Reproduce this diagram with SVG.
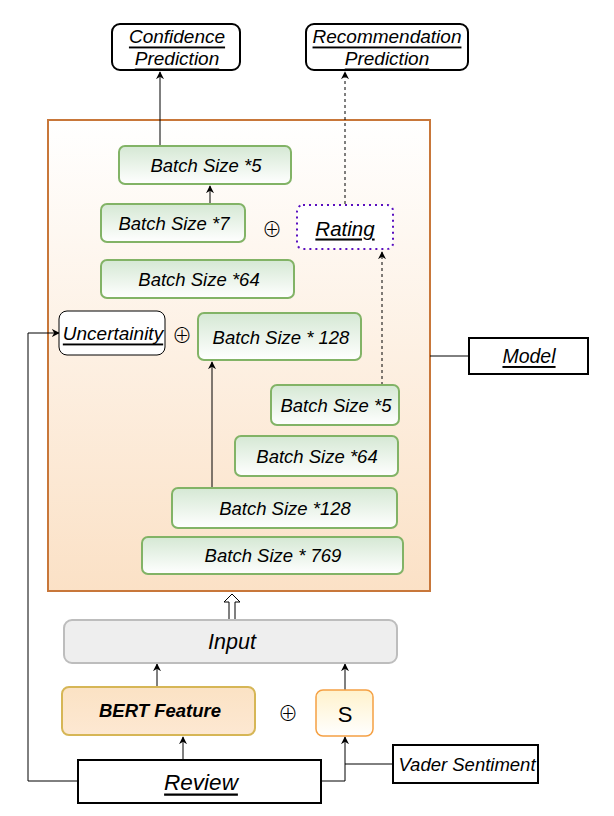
<svg xmlns="http://www.w3.org/2000/svg" width="614" height="816" viewBox="0 0 614 816">
<defs>
<linearGradient id="gModel" x1="0" y1="0" x2="0" y2="1"><stop offset="0" stop-color="#ffffff"/><stop offset="1" stop-color="#fbe1c6"/></linearGradient>
<linearGradient id="gGreen" x1="0" y1="0" x2="0" y2="1"><stop offset="0" stop-color="#d5e8d4"/><stop offset="1" stop-color="#ffffff"/></linearGradient>
<linearGradient id="gBert" x1="0" y1="0" x2="0" y2="1"><stop offset="0" stop-color="#fbe2c4"/><stop offset="1" stop-color="#fde8d2"/></linearGradient>
<linearGradient id="gS" x1="0" y1="0" x2="0" y2="1"><stop offset="0" stop-color="#fff2cc"/><stop offset="1" stop-color="#ffffff"/></linearGradient>
<marker id="arr" viewBox="0 0 10 10" refX="9" refY="5" markerWidth="8" markerHeight="8" orient="auto-start-reverse" markerUnits="userSpaceOnUse"><path d="M0,0 L10,5 L0,10 L3,5 Z" fill="#000"/></marker>
</defs>
<style>
text{font-family:"Liberation Sans",Arial,sans-serif;font-style:italic;fill:#000;text-anchor:middle;dominant-baseline:central}
.u{text-decoration:underline}
.bs{font-size:18.5px}
.pl{font-family:"Noto Sans CJK JP","DejaVu Sans",sans-serif;font-style:normal;font-weight:300;font-size:20px}
.green{fill:url(#gGreen);stroke:#82b366;stroke-width:2}
.blk{fill:#fff;stroke:#000;stroke-width:2}
.ln{fill:none;stroke:#000;stroke-width:1}
.dash{fill:none;stroke:#000;stroke-width:1;stroke-dasharray:3,3}
</style>
<rect width="614" height="816" fill="#fff"/>
<g id="model-container"><rect x="48" y="120" width="382" height="471" fill="url(#gModel)" stroke="#c8773a" stroke-width="2"/></g>
<g id="connectors">
<path class="ln" d="M160,146 V72" marker-end="url(#arr)"/>
<path class="dash" d="M345,204 V72" marker-end="url(#arr)"/>
<path class="ln" d="M210,204 V186" marker-end="url(#arr)"/>
<path class="ln" d="M212,488 V362" marker-end="url(#arr)"/>
<path class="dash" d="M382,385 V252" marker-end="url(#arr)"/>
<path class="ln" d="M430,356 H469"/>
<path class="ln" d="M157,687 V664" marker-end="url(#arr)"/>
<path class="ln" d="M345,690 V664" marker-end="url(#arr)"/>
<path class="ln" d="M183,760 V737" marker-end="url(#arr)"/>
<path class="ln" d="M321,781 H345 V737" marker-end="url(#arr)"/>
<path class="ln" d="M393,764 H345"/>
<path class="ln" d="M78,781 H28 V333 H59" marker-end="url(#arr)"/>
<path d="M229,620 V602 H224 L232,594 L240,602 H235 V620 Z" fill="#fff" stroke="#000" stroke-width="1"/>
</g>
<g id="confidence"><rect x="112" y="24" width="128" height="46" rx="8" class="blk"/><text x="177" y="36" class="u" style="font-size:19px">Confidence</text><text x="177" y="58" class="u" style="font-size:19px">Prediction</text></g>
<g id="recommendation"><rect x="306" y="24" width="162" height="46" rx="8" class="blk"/><text x="387" y="36" class="u" style="font-size:19px">Recommendation</text><text x="387" y="58" class="u" style="font-size:19px">Prediction</text></g>
<g id="bs5top"><rect x="119" y="146" width="172" height="38" rx="6" class="green"/><text x="206" y="165" class="bs">Batch Size *5</text></g>
<g id="bs7"><rect x="101" y="204" width="144" height="38" rx="6" class="green"/><text x="174" y="223" class="bs">Batch Size *7</text></g>
<g id="plus1"><text x="272" y="228" class="pl">⊕</text></g>
<g id="rating"><rect x="297" y="205" width="96" height="44" rx="6" fill="#fff" stroke="#5a0fbf" stroke-width="2" stroke-dasharray="2,4"/><text x="345" y="228" class="u" style="font-size:20.5px">Rating</text></g>
<g id="bs64top"><rect x="101" y="260" width="193" height="38" rx="6" class="green"/><text x="199" y="279" class="bs">Batch Size *64</text></g>
<g id="uncertainity"><rect x="59" y="311" width="106" height="44" rx="8" fill="#fff" stroke="#000" stroke-width="1"/><text x="113" y="333" class="u" style="font-size:19px">Uncertainity</text></g>
<g id="plus2"><text x="182" y="334" class="pl">⊕</text></g>
<g id="bs128top"><rect x="198" y="313" width="163" height="47" rx="6" class="green"/><text x="281" y="337" class="bs">Batch Size * 128</text></g>
<g id="bs5"><rect x="271" y="385" width="128" height="40" rx="6" class="green"/><text x="336" y="405" class="bs">Batch Size *5</text></g>
<g id="bs64"><rect x="235" y="436" width="163" height="40" rx="6" class="green"/><text x="317" y="456" class="bs">Batch Size *64</text></g>
<g id="bs128"><rect x="172" y="488" width="225" height="40" rx="6" class="green"/><text x="285" y="508" class="bs">Batch Size *128</text></g>
<g id="bs769"><rect x="142" y="537" width="261" height="37" rx="6" class="green"/><text x="273" y="555" class="bs">Batch Size * 769</text></g>
<g id="model"><rect x="469" y="338" width="119" height="36" class="blk"/><text x="529" y="356" class="u" style="font-size:19.5px">Model</text></g>
<g id="input"><rect x="64" y="620" width="333" height="43" rx="8" fill="#eeeeee" stroke="#bdbdbd" stroke-width="2"/><text x="232" y="642" style="font-size:21.5px">Input</text></g>
<g id="bert"><rect x="62" y="687" width="193" height="48" rx="7" fill="url(#gBert)" stroke="#d6b656" stroke-width="2"/><text x="160" y="710" style="font-size:18.5px;font-weight:bold">BERT Feature</text></g>
<g id="plus3"><text x="288" y="712" class="pl">⊕</text></g>
<g id="s"><rect x="316" y="690" width="57" height="46" rx="7" fill="url(#gS)" stroke="#f5a043" stroke-width="1.5"/><text x="345" y="714" style="font-style:normal;font-size:22px">S</text></g>
<g id="review"><rect x="78" y="760" width="243" height="43" class="blk"/><text x="201" y="782" class="u" style="font-size:22.5px">Review</text></g>
<g id="vader"><rect x="393" y="745" width="145" height="38" class="blk"/><text x="467" y="764" style="font-size:18.5px">Vader Sentiment</text></g>
</svg>
